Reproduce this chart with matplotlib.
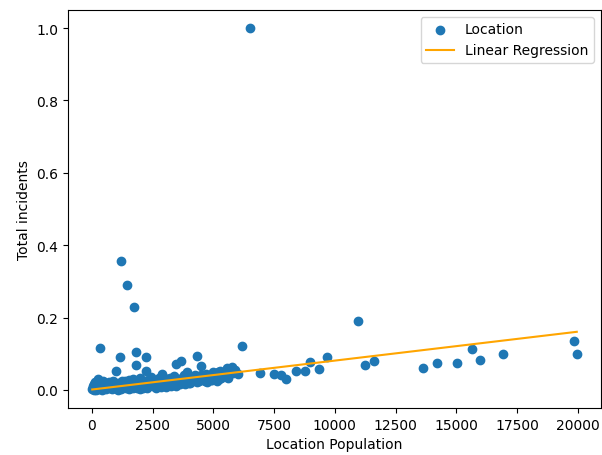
import numpy as np
import matplotlib
matplotlib.use("Agg")
import matplotlib.pyplot as plt

# population per location (x) and total incidents (y)
pop_small = [20, 50, 80, 100, 130, 150, 180, 200, 230, 260, 300, 320, 350, 380, 400,
             430, 460, 500, 530, 560, 600, 640, 680, 700, 740, 780, 820, 850, 900, 950,
             40, 90, 140, 210, 270, 340, 410, 480, 550, 620, 690, 760, 830, 880, 970]
inc_small = [0.002, 0.006, 0.000, 0.012, 0.004, 0.009, 0.001, 0.015, 0.007, 0.003,
             0.018, 0.005, 0.011, 0.002, 0.020, 0.008, 0.004, 0.014, 0.006, 0.010,
             0.003, 0.016, 0.007, 0.022, 0.005, 0.012, 0.009, 0.018, 0.006, 0.014,
             0.010, 0.017, 0.021, 0.004, 0.030, 0.013, 0.001, 0.024, 0.019, 0.009,
             0.013, 0.020, 0.002, 0.025, 0.008]

pop_mid = [1000, 1050, 1100, 1150, 1200, 1250, 1300, 1350, 1400, 1450, 1500, 1550,
           1600, 1650, 1700, 1750, 1800, 1850, 1900, 1950, 2000, 2050, 2100, 2150,
           2200, 2250, 2300, 2350, 2400, 2450, 1080, 1220, 1380, 1520, 1680, 1820,
           1980, 2120, 2280, 2420]
inc_mid = [0.004, 0.012, 0.020, 0.007, 0.015, 0.025, 0.009, 0.018, 0.005, 0.022,
           0.012, 0.028, 0.008, 0.017, 0.030, 0.011, 0.021, 0.006, 0.026, 0.014,
           0.032, 0.010, 0.019, 0.024, 0.008, 0.016, 0.028, 0.012, 0.022, 0.035,
           0.001, 0.003, 0.026, 0.002, 0.004, 0.013, 0.003, 0.006, 0.005, 0.015]

pop_upper = [2500, 2550, 2600, 2700, 2750, 2800, 2900, 2950, 3000, 3100, 3150, 3200,
             3300, 3350, 3400, 3500, 3550, 3600, 3700, 3750, 3800, 3900, 3950,
             2650, 2850, 3050, 3250, 3450, 3650, 3850]
inc_upper = [0.010, 0.020, 0.027, 0.014, 0.032, 0.018, 0.024, 0.036, 0.013, 0.029,
             0.020, 0.033, 0.016, 0.025, 0.038, 0.022, 0.030, 0.018, 0.034, 0.027,
             0.040, 0.024, 0.031, 0.006, 0.009, 0.007, 0.011, 0.012, 0.015, 0.017]

pop_big = [4000, 4100, 4200, 4250, 4300, 4400, 4500, 4600, 4700, 4750, 4800, 4900,
           5000, 5100, 5150, 5200, 5300, 5400, 5500, 5600, 5700, 5800, 5900, 4050,
           4350, 4650, 4950, 5250, 5550, 5750, 6020]
inc_big = [0.020, 0.036, 0.028, 0.042, 0.033, 0.025, 0.040, 0.030, 0.045, 0.022,
           0.035, 0.028, 0.038, 0.045, 0.026, 0.050, 0.034, 0.042, 0.038, 0.032,
           0.058, 0.048, 0.055, 0.018, 0.021, 0.024, 0.027, 0.029, 0.060, 0.063, 0.044]

# points standing clear of the main cloud
pop_out = [6500, 1190, 1440, 1730, 330, 1840, 6160, 10950, 1150, 2250, 1840, 990,
           2250, 2870, 3480, 3690, 4310, 4510, 3900, 4990, 5270,
           6940, 7490, 7800, 7980, 8420, 8760, 8970, 9350, 9680, 11230, 11590,
           13630, 14220, 15030, 15640, 15950, 16930, 19830, 19950]
inc_out = [1.0, 0.356, 0.29, 0.229, 0.115, 0.105, 0.122, 0.19, 0.09, 0.09, 0.069, 0.052,
           0.053, 0.044, 0.072, 0.081, 0.093, 0.067, 0.049, 0.049, 0.053,
           0.047, 0.044, 0.040, 0.030, 0.052, 0.051, 0.077, 0.058, 0.090, 0.070, 0.081,
           0.060, 0.074, 0.075, 0.113, 0.084, 0.100, 0.136, 0.100]

# regression coefficients (slope, intercept)
reg_coef = [8.0e-6, 0.001]

x = np.array(pop_small + pop_mid + pop_upper + pop_big + pop_out, dtype=float)
y = np.array(inc_small + inc_mid + inc_upper + inc_big + inc_out)
xs = np.sort(x)

fig = plt.figure(figsize=(6.02, 4.56), dpi=100)
ax = fig.add_axes([68 / 602, 47 / 456, 533 / 602, 398 / 456])
ax.scatter(x, y, label='Location')
ax.plot(xs, np.polyval(reg_coef, xs), color='orange', label='Linear Regression')
ax.set_xlabel('Location Population')
ax.set_ylabel('Total incidents')
ax.legend(loc='upper right')

fig.savefig('out.png', dpi=100)
